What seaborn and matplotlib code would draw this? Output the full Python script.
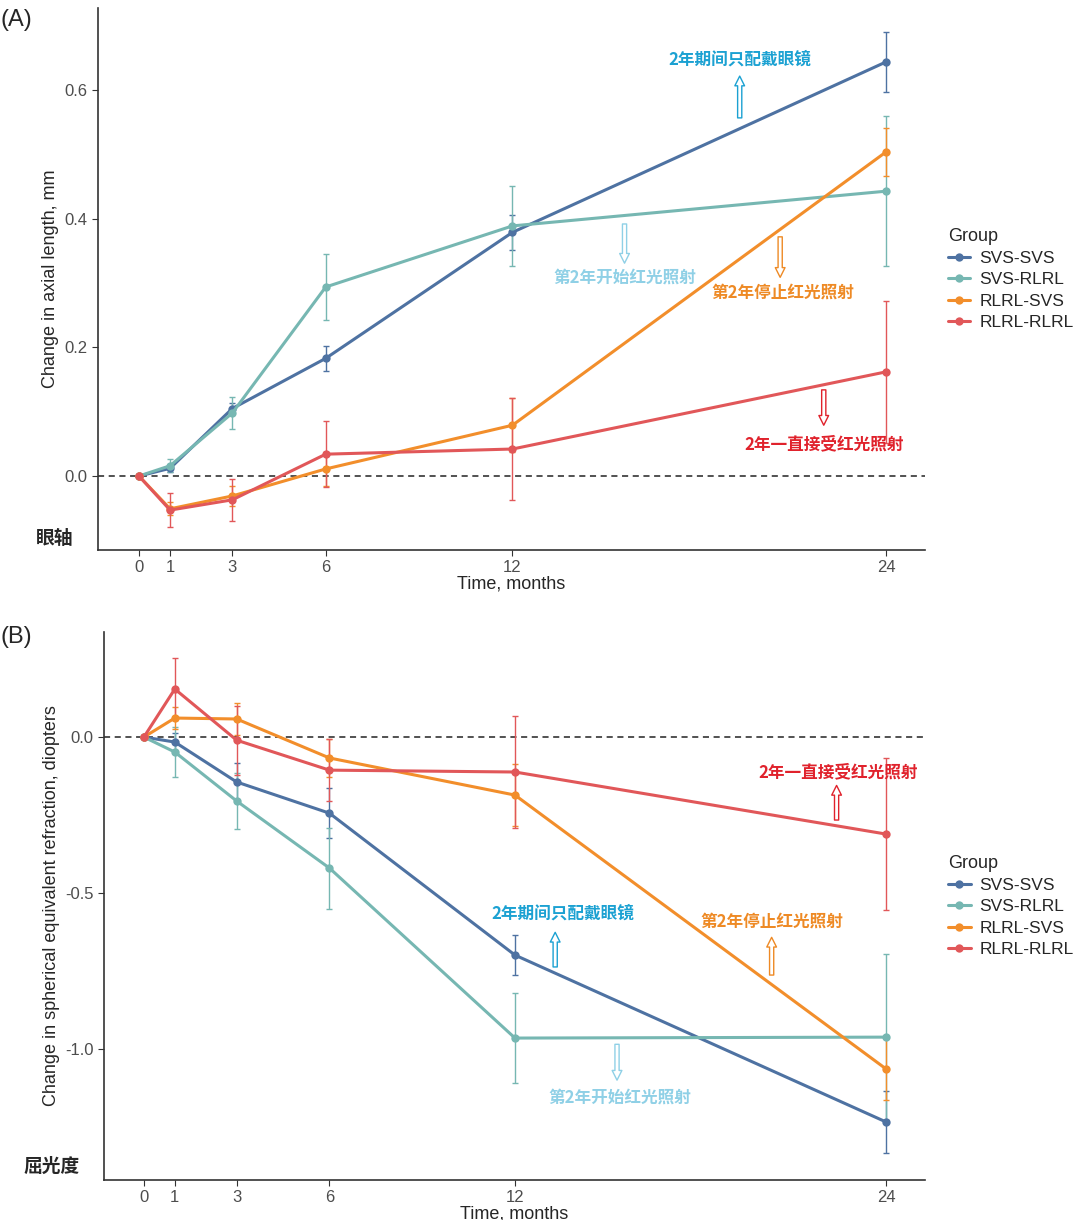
import numpy as np
import pandas as pd
import matplotlib
matplotlib.use("Agg")
import matplotlib.pyplot as plt
import seaborn as sns

sns.set_style("white")
plt.rcParams['font.family'] = ['Liberation Sans', 'Noto Sans CJK SC', 'DejaVu Sans']

months = [0, 1, 3, 6, 12, 24]
groups = ["SVS-SVS", "SVS-RLRL", "RLRL-SVS", "RLRL-RLRL"]
colors = ["#4E72A2", "#76B7B2", "#F28E2B", "#E15759"]

# (A) axial length change, mm
al_svs_svs = [0.0, 0.012, 0.105, 0.183, 0.379, 0.644]
al_svs_rlrl = [0.0, 0.016, 0.098, 0.294, 0.389, 0.443]
al_rlrl_svs = [0.0, -0.051, -0.031, 0.011, 0.079, 0.504]
al_rlrl_rlrl = [0.0, -0.053, -0.037, 0.034, 0.042, 0.162]
al_err_svs_svs = [0.0, 0.005, 0.008, 0.02, 0.027, 0.046]
al_err_svs_rlrl = [0.0, 0.01, 0.025, 0.052, 0.062, 0.117]
al_err_rlrl_svs = [0.0, 0.01, 0.015, 0.027, 0.042, 0.037]
al_err_rlrl_rlrl = [0.0, 0.027, 0.033, 0.051, 0.08, 0.11]

# (B) spherical equivalent refraction change, diopters
se_svs_svs = [0.0, -0.016, -0.144, -0.244, -0.699, -1.234]
se_svs_rlrl = [0.0, -0.048, -0.205, -0.42, -0.965, -0.962]
se_rlrl_svs = [0.0, 0.061, 0.058, -0.067, -0.186, -1.064]
se_rlrl_rlrl = [0.0, 0.154, -0.01, -0.106, -0.112, -0.311]
se_err_svs_svs = [0.0, 0.03, 0.06, 0.08, 0.065, 0.1]
se_err_svs_rlrl = [0.0, 0.08, 0.09, 0.13, 0.145, 0.265]
se_err_rlrl_svs = [0.0, 0.035, 0.05, 0.06, 0.1, 0.1]
se_err_rlrl_rlrl = [0.0, 0.1, 0.11, 0.1, 0.18, 0.245]


def long_df(vals, errs):
    rows = []
    for g, v, e in zip(groups, vals, errs):
        for m, y, s in zip(months, v, e):
            rows.append({"Time": m, "Value": y, "Err": s, "Group": g})
    return pd.DataFrame(rows)


df_a = long_df([al_svs_svs, al_svs_rlrl, al_rlrl_svs, al_rlrl_rlrl],
               [al_err_svs_svs, al_err_svs_rlrl, al_err_rlrl_svs, al_err_rlrl_rlrl])
df_b = long_df([se_svs_svs, se_svs_rlrl, se_rlrl_svs, se_rlrl_rlrl],
               [se_err_svs_svs, se_err_svs_rlrl, se_err_rlrl_svs, se_err_rlrl_rlrl])

fig = plt.figure(figsize=(10.8, 12.2), dpi=100)
ax_a = fig.add_axes([0.0907, 0.5492, 0.7657, 0.4443])
ax_b = fig.add_axes([0.0963, 0.0328, 0.7602, 0.4492])

cjk = ['Noto Sans CJK SC', 'DejaVu Sans']


def draw_panel(ax, df, ylabel, xlim, ylim, yticks, ytlabels):
    for g, c in zip(groups, colors):
        sub = df[df["Group"] == g]
        ax.errorbar(sub["Time"], sub["Value"], yerr=sub["Err"], fmt="none",
                    ecolor=c, elinewidth=1.0, capsize=2, capthick=1.0, zorder=2)
    ax.axhline(0, color="#222222", lw=1.1, ls=(0, (4, 3)), zorder=1)
    sns.lineplot(data=df, x="Time", y="Value", hue="Group", hue_order=groups,
                 palette=colors, marker="o", markersize=6, markeredgewidth=0,
                 linewidth=2.2, ax=ax, zorder=3)
    ax.set_xlim(*xlim)
    ax.set_ylim(*ylim)
    ax.set_xticks(months)
    ax.set_yticks(yticks)
    ax.set_yticklabels(ytlabels)
    ax.tick_params(axis="both", labelsize=12, labelcolor="#4d4d4d",
                   length=4, color="#333333", direction="out", left=True, bottom=True)
    ax.set_xlabel("Time, months", fontsize=13, labelpad=0)
    ax.set_ylabel(ylabel, fontsize=13)
    sns.despine(ax=ax)
    for sp in ["left", "bottom"]:
        ax.spines[sp].set_color("#333333")
        ax.spines[sp].set_linewidth(1.2)
    w = ax.get_position().width * 1080
    sns.move_legend(ax, "center left", bbox_to_anchor=(1 + 23 / w, 0.5), title="Group",
                    frameon=False, fontsize=12.5, title_fontsize=13,
                    handlelength=1.3, handletextpad=0.5, borderpad=0,
                    borderaxespad=0, labelspacing=0.35, alignment="left")


def note(ax, text, color, tx, ty, x0, y0, x1, y1):
    ax.text(tx, ty, text, color=color, fontsize=12, fontweight="bold",
            family=cjk, ha="center", va="center")
    ax.annotate("", xy=(x1, y1), xytext=(x0, y0),
                arrowprops=dict(arrowstyle="simple,head_width=0.7,head_length=0.7,tail_width=0.3",
                                fc="white", ec=color, lw=1.0, shrinkA=0, shrinkB=0))


draw_panel(ax_a, df_a, "Change in axial length, mm", (-1.317, 25.25), (-0.115, 0.728),
           [0.0, 0.2, 0.4, 0.6], ["0.0", "0.2", "0.4", "0.6"])
draw_panel(ax_b, df_b, "Change in spherical equivalent refraction, diopters",
           (-1.29, 25.26), (-1.42, 0.337), [-1.0, -0.5, 0.0], ["-1.0", "-0.5", "0.0"])

c_blue, c_light, c_orange, c_red = "#1BA1D2", "#8FD0E6", "#EE8A25", "#E0222C"

note(ax_a, "2年期间只配戴眼镜", c_blue, 19.3, 0.647, 19.3, 0.557, 19.3, 0.622)
note(ax_a, "第2年开始红光照射", c_light, 15.6, 0.308, 15.6, 0.392, 15.6, 0.331)
note(ax_a, "第2年停止红光照射", c_orange, 20.7, 0.285, 20.6, 0.372, 20.6, 0.309)
note(ax_a, "2年一直接受红光照射", c_red, 22.0, 0.05, 22.0, 0.134, 22.0, 0.079)

note(ax_b, "2年一直接受红光照射", c_red, 22.45, -0.112, 22.4, -0.266, 22.4, -0.155)
note(ax_b, "2年期间只配戴眼镜", c_blue, 13.55, -0.567, 13.3, -0.737, 13.3, -0.626)
note(ax_b, "第2年停止红光照射", c_orange, 20.3, -0.59, 20.3, -0.763, 20.3, -0.642)
note(ax_b, "第2年开始红光照射", c_light, 15.4, -1.157, 15.3, -0.985, 15.3, -1.1)

fig.text(0.0, 1 - 20 / 1220, "(A)", fontsize=17, ha="left", va="center")
fig.text(0.0, 1 - 637 / 1220, "(B)", fontsize=17, ha="left", va="center")
fig.text(55 / 1080, 1 - 538 / 1220, "眼轴", fontsize=13.5, fontweight="bold",
         family=cjk, ha="center", va="center")
fig.text(52 / 1080, 1 - 1166 / 1220, "屈光度", fontsize=13.5, fontweight="bold",
         family=cjk, ha="center", va="center")

fig.savefig("out.png", dpi=100)
